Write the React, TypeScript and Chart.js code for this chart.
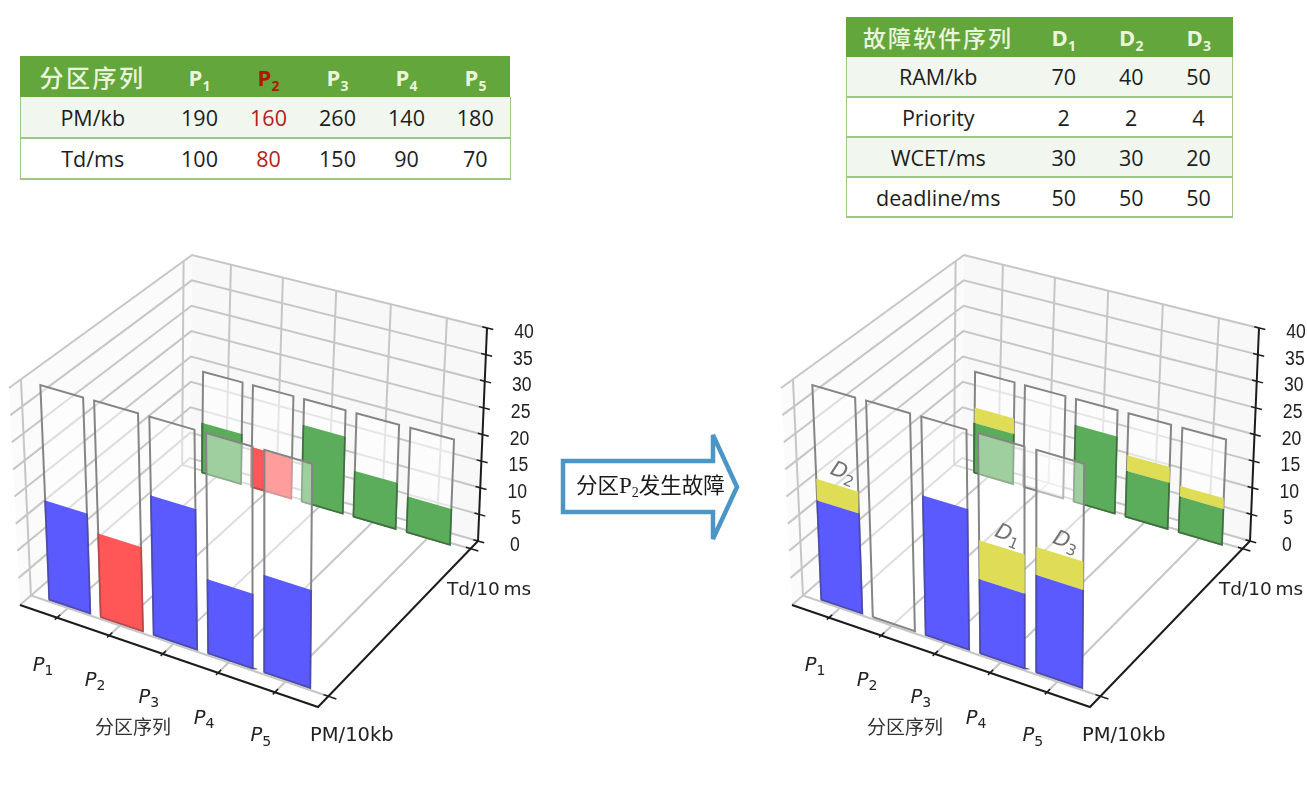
import React, { useEffect, useRef } from "react";
import { Chart, registerables } from "chart.js";

Chart.register(...registerables);

// ---- data ----
const partitionIds = [1, 2, 3, 4, 5];
const softwareIds = [1, 2, 3];
const pmKb = [190, 160, 260, 140, 180];
const tdMs = [100, 80, 150, 90, 70];
const ramKb = [70, 40, 50];
const priority = [2, 2, 4];
const wcetMs = [30, 30, 20];
const deadlineMs = [50, 50, 50];

const faultyIndex = 1;
const pmHeights = [19, 16, 26, 14, 18];
const tdHeights = [10, 8, 15, 9, 7];
const pmCapacity = [40, 40, 40, 40, 40];
const tdCapacity = [20, 20, 20, 20, 20];
const pmAddedRight = [4, 0, 0, 7, 5];
const tdAddedRight = [3, 0, 0, 3, 2];
const softwareLabels = [
  { id: "2", bar: 0 },
  { id: "1", bar: 3 },
  { id: "3", bar: 4 },
];
const zTicks = [0, 5, 10, 15, 20, 25, 30, 35, 40];

// ---- axis box calibration of the 3D view ----
type Pt = [number, number];
const FLOOR: Pt[] = [[20, 605], [318, 707], [478, 541], [190, 458]];
const ROOF: Pt[] = [[9, 388], [320, 479], [487, 328], [192, 255]];
const Z_MAX = 40;
const Y_TICK_FRONT = 0.06;
const Y_TICK_BACK = 0.95;
const FRONT_V = 0.07;
const BACK_V = 0.94;
const X_TICK_0 = 0.133;
const X_TICK_STEP = 0.183;
const PANEL_SHIFT = 772;

function homography(q: Pt[]) {
  const [[x0, y0], [x1, y1], [x2, y2], [x3, y3]] = q;
  const sx = x0 - x1 + x2 - x3, sy = y0 - y1 + y2 - y3;
  const dx1 = x1 - x2, dx2 = x3 - x2, dy1 = y1 - y2, dy2 = y3 - y2;
  const den = dx1 * dy2 - dx2 * dy1;
  const g = (sx * dy2 - dx2 * sy) / den;
  const h = (dx1 * sy - sx * dy1) / den;
  const a = x1 - x0 + g * x1, b = x3 - x0 + h * x3;
  const d = y1 - y0 + g * y1, e = y3 - y0 + h * y3;
  return (u: number, v: number): Pt => {
    const w = g * u + h * v + 1;
    return [(a * u + b * v + x0) / w, (d * u + e * v + y0) / w];
  };
}
const floorAt = homography(FLOOR);
const roofAt = homography(ROOF);
function project(u: number, v: number, z: number, dx: number): Pt {
  const f = floorAt(u, v), r = roofAt(u, v), t = z / Z_MAX;
  return [f[0] + (r[0] - f[0]) * t + dx, f[1] + (r[1] - f[1]) * t];
}

// ---- dataset helpers ----
function shape(pts: Pt[], opts: { fill?: string; stroke?: string; width?: number }) {
  return {
    data: pts.map(([x, y]) => ({ x, y })),
    showLine: true,
    pointRadius: 0,
    tension: 0,
    clip: false,
    fill: opts.fill ? "shape" : false,
    backgroundColor: opts.fill ?? "transparent",
    borderColor: opts.stroke ?? "transparent",
    borderWidth: opts.stroke ? opts.width ?? 1 : 0,
    borderJoinStyle: "miter",
  };
}

const GRID = "#c6c6c6";
const AXIS = "#1c1c1c";
const BLUE = "#5a5aff", BLUE_EDGE = "#4a4ab0";
const RED = "#ff5757", RED_EDGE = "#b84848";
const GREEN = "#5bad5b", GREEN_EDGE = "#3c6f3c";
const YELLOW = "#dfdc56";
const GHOST_EDGE = "#858585";

function panelDatasets(dx: number, right: boolean) {
  const out: any[] = [];
  const P = (u: number, v: number, z: number) => project(u, v, z, dx);
  const tickU = partitionIds.map((_, i) => X_TICK_0 + X_TICK_STEP * i);

  // panes
  out.push(shape([P(0, 1, 0), P(1, 1, 0), P(1, 1, Z_MAX), P(0, 1, Z_MAX), P(0, 1, 0)], { fill: "#f8f8f8" }));
  out.push(shape([P(0, 0, 0), P(0, 1, 0), P(0, 1, Z_MAX), P(0, 0, Z_MAX), P(0, 0, 0)], { fill: "#fbfbfb" }));

  // wall and floor grid
  zTicks.forEach((z) => {
    out.push(shape([P(0, 0, z), P(0, 1, z), P(1, 1, z)], { stroke: GRID, width: 2 }));
  });
  tickU.forEach((u) => {
    out.push(shape([P(u, 0, 0), P(u, 1, 0), P(u + 0.007, 1, Z_MAX)], { stroke: "transparent", width: 0 }));
    out.push(shape([P(u, 0, 0), P(u, 1, 0)], { stroke: GRID, width: 2 }));
    out.push(shape([P(u, 1, 0), P(u + 0.007, 1, Z_MAX)], { stroke: GRID, width: 2 }));
  });
  [Y_TICK_FRONT, Y_TICK_BACK].forEach((v) => {
    out.push(shape([P(1, v, 0), P(0, v, 0), P(0, v, Z_MAX)], { stroke: GRID, width: 2 }));
  });

  // black axes and their ticks
  out.push(shape([P(0, 0, 0), P(1, 0, 0), P(1, 1, 0)], { stroke: AXIS, width: 2 }));
  out.push(shape([P(1, 1, 0), P(1, 1, Z_MAX)], { stroke: AXIS, width: 2 }));
  tickU.forEach((u) => out.push(shape([P(u, -0.012, 0), P(u, 0.018, 0)], { stroke: AXIS, width: 1.5 })));
  [Y_TICK_FRONT, Y_TICK_BACK].forEach((v) =>
    out.push(shape([P(0.985, v, 0), P(1.025, v, 0)], { stroke: AXIS, width: 1.5 })),
  );
  zTicks.forEach((z) => out.push(shape([P(0.985, 1, z), P(1.02, 1, z)], { stroke: AXIS, width: 1.5 })));

  // flat bars: back row (Td) first, then the front row (PM)
  const bars = (
    v: number, start: number, step: number, width: number, settle: number, capSettle: number, veil: string,
    heights: number[], added: number[], capacity: number[], color: string, edge: string,
  ) => {
    heights.forEach((_, i) => {
      const u0 = start + step * i, u1 = u0 + width;
      const face = (a: number, b: number): Pt[] => [P(u0, v, a), P(u1, v, a), P(u1, v, b), P(u0, v, b), P(u0, v, a)];
      out.push(shape(face(0, capacity[i] + capSettle), { fill: veil, stroke: GHOST_EDGE, width: 2 }));
      if (right && i === faultyIndex) return;
      const isFaulty = !right && i === faultyIndex;
      const h = heights[i] + settle;
      if (right && added[i] > 0) out.push(shape(face(h, h + added[i]), { fill: YELLOW }));
      out.push(shape(face(0, h), { fill: isFaulty ? RED : color }));
      out.push(shape([P(u0, v, h), P(u0, v, 0), P(u1, v, 0), P(u1, v, h)], { stroke: isFaulty ? RED_EDGE : edge, width: 1.6 }));
    });
  };
  bars(BACK_V, 0.08, 0.179, 0.142, -0.3, -0.3, "rgba(255,255,255,0.55)", tdHeights, tdAddedRight, tdCapacity, GREEN, GREEN_EDGE);
  bars(FRONT_V, 0.06, 0.183, 0.146, -0.7, -0.4, "rgba(255,255,255,0.42)", pmHeights, pmAddedRight, pmCapacity, BLUE, BLUE_EDGE);
  return out;
}

// ---- text of the panels ----
function subText(ctx: any, base: string, sub: string, cx: number, cy: number, size: number) {
  ctx.textAlign = "left";
  ctx.textBaseline = "middle";
  ctx.font = `italic ${size}px "DejaVu Sans"`;
  const bw = ctx.measureText(base).width;
  ctx.font = `${size * 0.72}px "DejaVu Sans"`;
  const sw = ctx.measureText(sub).width;
  const x = cx - (bw + sw) / 2;
  ctx.font = `italic ${size}px "DejaVu Sans"`;
  ctx.fillText(base, x, cy);
  ctx.font = `${size * 0.72}px "DejaVu Sans"`;
  ctx.fillText(sub, x + bw, cy + size * 0.3);
}

const partitionLabelOffsets: Pt[] = [[-14, 48], [-14, 45], [-14, 44], [-14, 46], [-14, 44]];

const textPlugin = {
  id: "panelText",
  afterDatasetsDraw(chart: any) {
    const ctx = chart.ctx;
    [0, PANEL_SHIFT].forEach((dx) => {
      ctx.save();
      ctx.fillStyle = "#222";
      ctx.textAlign = "center";
      ctx.textBaseline = "middle";
      ctx.font = '20px "Liberation Sans"';
      zTicks.forEach((z) => {
        const p = project(1, 1, z, dx);
        ctx.save();
        ctx.translate(p[0] + 37, p[1] + 4.5);
        ctx.scale(0.88, 1);
        ctx.fillText(String(z), 0, 0);
        ctx.restore();
      });
      partitionIds.forEach((id, i) => {
        const p = project(X_TICK_0 + X_TICK_STEP * i, 0, 0, dx);
        const o = partitionLabelOffsets[i];
        subText(ctx, "P", String(id), p[0] + o[0], p[1] + o[1], 19.5);
      });
      ctx.textAlign = "center";
      ctx.fillStyle = "#333";
      ctx.font = '19px "Noto Sans CJK SC"';
      ctx.fillText("分区序列", 133 + dx, 727);
      ctx.fillStyle = "#222";
      ctx.textAlign = "left";
      ctx.font = '18.5px "DejaVu Sans"';
      ctx.fillText("Td/10\u2009ms", 447 + dx, 590);
      ctx.font = '19.5px "DejaVu Sans"';
      ctx.fillText("PM/10kb", 310 + dx, 736);
      ctx.restore();
    });
    softwareLabels.forEach(({ id, bar }) => {
      const u = 0.06 + 0.183 * bar + 0.073;
      const top = pmHeights[bar] + pmAddedRight[bar] - 0.7;
      const p = project(u, FRONT_V, top, PANEL_SHIFT);
      ctx.save();
      ctx.translate(p[0] + 6, p[1] - 12);
      ctx.rotate((22 * Math.PI) / 180);
      ctx.fillStyle = "#707070";
      subText(ctx, "D", id, 0, 0, 21);
      ctx.restore();
    });
  },
};

// ---- tables ----
const CELL_FONT = '"Open Sans", sans-serif';
const HEAD_GREEN = "#62a63c";
const LINE_GREEN = "#9cc884";
const ODD_ROW = "#f1f7ee";

function Sub({ base, sub, color }: { base: string; sub: number; color?: string }) {
  return (
    <span style={{ color, fontWeight: 700, fontFamily: '"Open Sans", sans-serif', fontSize: 22 }}>
      {base}
      <span style={{ fontSize: 14, position: "relative", top: 5 }}>{sub}</span>
    </span>
  );
}

function Table({
  left, top, firstWidth, colWidth, headHeight, rowHeight, title, titleSize, titleSpacing, heads, rows, redCol,
}: {
  left: number; top: number; firstWidth: number; colWidth: number; headHeight: number; rowHeight: number; title: string;
  titleSize: number; titleSpacing: number; heads: React.ReactNode[]; rows: { name: string; values: number[] }[]; redCol?: number;
}) {
  const cols = heads.length;
  const cell: React.CSSProperties = { textAlign: "center", padding: 0, verticalAlign: "middle" };
  return (
    <table
      style={{
        position: "absolute", left, top, width: firstWidth + colWidth * cols, tableLayout: "fixed",
        borderCollapse: "collapse", fontFamily: CELL_FONT, fontSize: 21.5, color: "#1d1d1d",
      }}
    >
      <colgroup>
        <col style={{ width: firstWidth }} />
        {heads.map((_, i) => (<col key={i} style={{ width: colWidth }} />))}
      </colgroup>
      <tbody>
        <tr style={{ height: headHeight, background: HEAD_GREEN, color: "#eaf5dd" }}>
          <td style={{ ...cell, fontFamily: '"Noto Sans CJK SC"', fontWeight: 500, fontSize: titleSize, letterSpacing: titleSpacing }}>{title}</td>
          {heads.map((h, i) => (<td key={i} style={cell}>{h}</td>))}
        </tr>
        {rows.map((r, ri) => (
          <tr
            key={r.name}
            style={{
              height: rowHeight, background: ri % 2 === 0 ? ODD_ROW : "#fff",
              borderBottom: `2px solid ${LINE_GREEN}`,
              borderLeft: `1px solid ${LINE_GREEN}`, borderRight: `1px solid ${LINE_GREEN}`,
            }}
          >
            <td style={cell}>{r.name}</td>
            {r.values.map((v, i) => (
              <td key={i} style={{ ...cell, color: i === redCol ? "#b3201c" : undefined }}>{v}</td>
            ))}
          </tr>
        ))}
      </tbody>
    </table>
  );
}

function FaultArrow() {
  return (
    <svg width={1307} height={788} style={{ position: "absolute", left: 0, top: 0, pointerEvents: "none" }}>
      <polygon
        points="563,461 713,461 713,435 737,487 713,539 713,512 563,512"
        fill="#fff" stroke="#4b96c6" strokeWidth={4.5}
      />
      <text x={576} y={493} fontSize={21.5} fill="#1a1a1a" fontFamily='"Noto Sans CJK SC"'>
        分区<tspan fontFamily='"Liberation Serif"' fontSize={23}>P</tspan>
        <tspan fontFamily='"Liberation Serif"' fontSize={14} dy={4}>2</tspan>
        <tspan dy={-4}>发生故障</tspan>
      </text>
    </svg>
  );
}

export default function App() {
  const ref = useRef<HTMLCanvasElement | null>(null);
  useEffect(() => {
    if (!ref.current) return;
    const datasets = [...panelDatasets(0, false), ...panelDatasets(PANEL_SHIFT, true)].reverse();
    const chart = new Chart(ref.current, {
      type: "scatter",
      data: { datasets },
      options: {
        responsive: false,
        animation: false,
        events: [],
        layout: { padding: 0 },
        plugins: { legend: { display: false }, tooltip: { enabled: false } },
        scales: {
          x: { type: "linear", min: 0, max: 1307, display: false },
          y: { type: "linear", min: 0, max: 788, reverse: true, display: false },
        },
      },
      plugins: [textPlugin],
    } as any);
    return () => chart.destroy();
  }, []);

  return (
    <div style={{ position: "absolute", left: 0, top: 0, width: 1307, height: 788, background: "#fff", overflow: "hidden" }}>
      <canvas ref={ref} width={1307} height={788} style={{ position: "absolute", left: 0, top: 0, display: "block" }} />
      <FaultArrow />
      <Table
        left={19.5} top={56} firstWidth={145} colWidth={69} headHeight={41} rowHeight={41} title="分区序列" titleSize={24} titleSpacing={2.5}
        heads={partitionIds.map((id, i) => (
          <Sub key={id} base="P" sub={id} color={i === faultyIndex ? "#a81c07" : undefined} />
        ))}
        rows={[{ name: "PM/kb", values: pmKb }, { name: "Td/ms", values: tdMs }]}
        redCol={faultyIndex}
      />
      <Table
        left={845.5} top={17} firstWidth={184} colWidth={67.5} headHeight={40} rowHeight={40} title="故障软件序列" titleSize={23} titleSpacing={2}
        heads={softwareIds.map((id) => (<Sub key={id} base="D" sub={id} />))}
        rows={[
          { name: "RAM/kb", values: ramKb },
          { name: "Priority", values: priority },
          { name: "WCET/ms", values: wcetMs },
          { name: "deadline/ms", values: deadlineMs },
        ]}
      />
    </div>
  );
}
